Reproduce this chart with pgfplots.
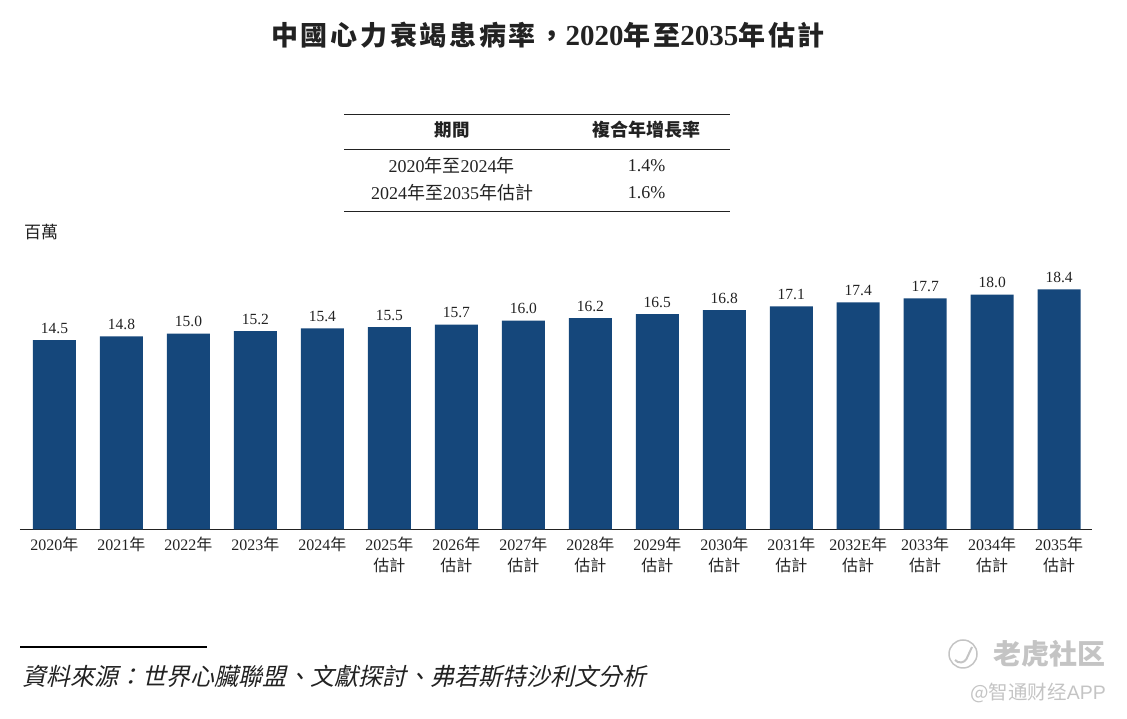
\documentclass[border=0pt]{standalone}
\usepackage{fontspec}
\usepackage{pgfplots}
\pgfplotsset{compat=1.18}
\setmainfont{Liberation Serif}
\newfontfamily\cjk{Noto Sans CJK TC}
\newfontfamily\cjkit[FakeSlant=0.22]{Noto Sans CJK TC}
\newfontfamily\cjkt[LetterSpace=10]{Noto Sans CJK TC}
\newfontfamily\cjksc{Noto Sans CJK SC}
\newfontfamily\wmlat{Liberation Sans}
\newcommand{\zh}[1]{{\cjk #1}}
\newcommand{\fs}[1]{\fontsize{#1}{#1}\selectfont}
\newcommand{\yr}[1]{#1\zh{年}}
\newcommand{\yre}[1]{#1\zh{年}\\\zh{估計}}
\definecolor{barblue}{HTML}{15477B}
\definecolor{txt}{HTML}{222222}
\definecolor{wm}{HTML}{C4C4C4}

\begin{document}
\begin{tikzpicture}[x=1pt,y=1pt]
\useasboundingbox (0,0) rectangle (1127,719);
\begin{axis}[
    at={(20pt,189.7pt)},
    anchor=south west,
    scale only axis,
    width=1072pt,
    height=260.8pt,
    xmin=-0.515, xmax=15.49,
    ymin=0, ymax=20,
    enlarge x limits=false,
    axis x line=bottom,
    axis y line=none,
    x axis line style={-, color=txt, line width=1pt},
    major tick length=0pt,
    ybar,
    bar width=43pt,
    xtick=data,
    xticklabels={
        {\yr{2020}},{\yr{2021}},{\yr{2022}},{\yr{2023}},{\yr{2024}},
        {\yre{2025}},{\yre{2026}},{\yre{2027}},{\yre{2028}},{\yre{2029}},
        {\yre{2030}},{\yre{2031}},{\yre{2032E}},{\yre{2033}},{\yre{2034}},{\yre{2035}}},
    xticklabel style={align=center, font=\fontsize{16}{21}\selectfont, text=txt, yshift=-4pt},
    nodes near coords,
    nodes near coords style={font=\fs{15.5}, text=txt, yshift=3pt,
        /pgf/number format/.cd, fixed, fixed zerofill, precision=1, assume math mode=true},
]
\addplot[fill=barblue, draw=none] coordinates {
    (0,14.5) (1,14.8) (2,15.0) (3,15.2) (4,15.4) (5,15.5) (6,15.7) (7,16.0)
    (8,16.2) (9,16.5) (10,16.8) (11,17.1) (12,17.4) (13,17.7) (14,18.0) (15,18.4)
};
\end{axis}

% title
\node[text=txt] at (548,684) {\fs{27}{\cjkt\bfseries 中國心力衰竭患病率，}{\fs{29}\bfseries 2020}{\cjkt\bfseries 年至}{\fs{29}\bfseries 2035}{\cjkt\bfseries 年估計}};

% cagr table
\draw[color=txt, line width=1pt] (344,604.5) -- (730,604.5);
\draw[color=txt, line width=1pt] (344,569.5) -- (730,569.5);
\draw[color=txt, line width=1pt] (344,507.5) -- (730,507.5);
\node[text=txt] at (452,589) {\fs{17.5}\cjk\bfseries 期間};
\node[text=txt] at (646,589) {\fs{18}\cjk\bfseries 複合年增長率};
\node[text=txt] at (451.5,553) {\fs{18}2020\zh{年至}2024\zh{年}};
\node[text=txt] at (452,526) {\fs{18}2024\zh{年至}2035\zh{年估計}};
\node[text=txt] at (646.5,553) {\fs{18}1.4\%};
\node[text=txt] at (646.5,526) {\fs{18}1.6\%};

% unit
\node[text=txt] at (41,487) {\fs{17}\zh{百萬}};

% source
\draw[color=black, line width=2pt] (20,71.5) -- (207,71.5);
\node[text=txt, anchor=west, inner sep=0pt] at (22,43) {\fs{24}\cjkit 資料來源：世界心臟聯盟、文獻探討、弗若斯特沙利文分析};

% watermark
\draw[color=wm, line width=1.5pt] (963,65) circle (14);
\draw[color=wm, line width=2pt] (955,59) arc[start angle=220, end angle=330, radius=7] -- (972,72);
\node[text=wm, anchor=east, inner sep=0pt] at (1106,65) {\fs{28}\cjksc\bfseries 老虎社区};
\node[text=wm, anchor=east, inner sep=0pt] at (1106,26) {\fs{19.5}\cjksc @智通财经{\wmlat APP}};
\end{tikzpicture}
\end{document}
